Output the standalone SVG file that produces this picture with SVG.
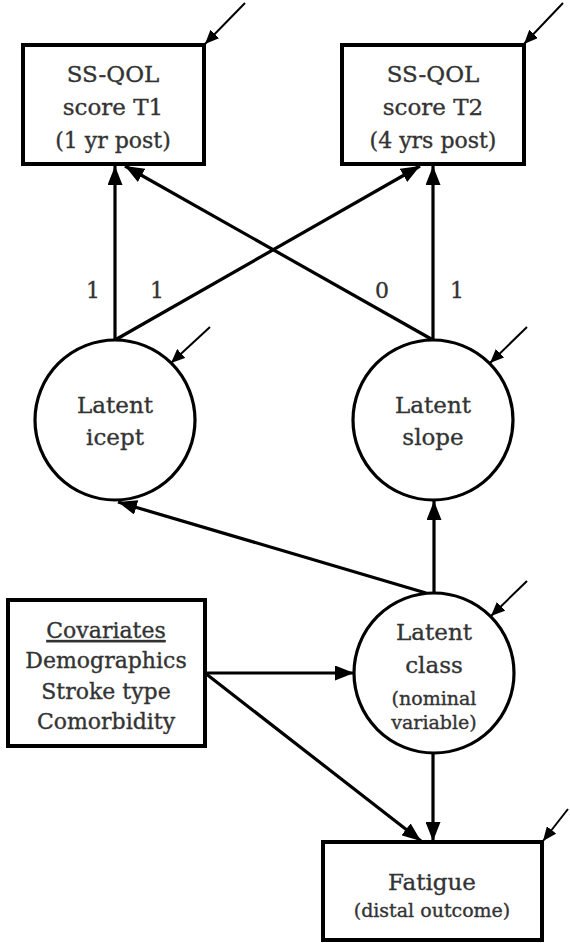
<svg xmlns="http://www.w3.org/2000/svg" width="570" height="943" viewBox="0 0 570 943">
  <style>
    .box { fill: #fff; stroke: #000; stroke-width: 4; }
    .lat { fill: #fff; stroke: #000; stroke-width: 3.2; }
    .t { font-family: "DejaVu Serif", "Liberation Serif", serif; fill: #333; stroke: #333; stroke-width: 0.35; text-anchor: middle; }
    .big { font-size: 23px; }
    .mid { font-size: 22px; }
    .sm { font-size: 19px; }
    .path { stroke: #000; stroke-width: 3.2; fill: none; marker-end: url(#head); }
    .err { stroke: #000; stroke-width: 2; fill: none; marker-end: url(#ehead); }
    .lbl { font-family: "DejaVu Serif", "Liberation Serif", serif; font-size: 22px; fill: #333; stroke: #333; stroke-width: 0.35; text-anchor: middle; }
  </style>
  <defs>
    <marker id="head" markerUnits="userSpaceOnUse" markerWidth="19" markerHeight="15" refX="19" refY="7.5" orient="auto">
      <path d="M0,0 L19,7.5 L0,15 z" fill="#000"/>
    </marker>
    <marker id="ehead" markerUnits="userSpaceOnUse" markerWidth="14" markerHeight="12" refX="14" refY="6" orient="auto">
      <path d="M0,0 L14,6 L0,12 z" fill="#000"/>
    </marker>
  </defs>
  <rect width="570" height="943" fill="#fff"/>

  <!-- paths between variables -->
  <g id="connectors">
    <line class="path" x1="115" y1="340" x2="115" y2="166"/>
    <line class="path" x1="433" y1="340" x2="433" y2="166"/>
    <line class="path" x1="115" y1="340" x2="420" y2="166"/>
    <line class="path" x1="433" y1="340" x2="125" y2="166"/>
    <line class="path" x1="434" y1="593" x2="434" y2="501"/>
    <line class="path" x1="426" y1="593" x2="118" y2="502"/>
    <line class="path" x1="205" y1="673" x2="354" y2="673"/>
    <line class="path" x1="205" y1="673" x2="421" y2="841"/>
    <line class="path" x1="433" y1="753" x2="433" y2="841"/>
    <!-- residual / error terms -->
    <line class="err" x1="245" y1="3" x2="205" y2="44"/>
    <line class="err" x1="563" y1="3" x2="524" y2="44"/>
    <line class="err" x1="210" y1="327" x2="171" y2="363"/>
    <line class="err" x1="527" y1="327" x2="490" y2="363"/>
    <line class="err" x1="527" y1="581" x2="491" y2="616"/>
    <line class="err" x1="568" y1="809" x2="543" y2="841"/>
  </g>

  <!-- loadings -->
  <g id="loadings">
    <text class="lbl" x="93" y="298">1</text>
    <text class="lbl" x="157" y="298">1</text>
    <text class="lbl" x="382" y="298">0</text>
    <text class="lbl" x="457" y="298">1</text>
  </g>

  <g id="ssqol-t1">
    <rect class="box" x="23" y="45" width="181" height="119"/>
    <text class="t big" x="113" y="82">SS-QOL</text>
    <text class="t big" x="113" y="115">score T1</text>
    <text class="t mid" x="113" y="148">(1 yr post)</text>
  </g>

  <g id="ssqol-t2">
    <rect class="box" x="342" y="45" width="182" height="119"/>
    <text class="t big" x="433" y="82">SS-QOL</text>
    <text class="t big" x="433" y="115">score T2</text>
    <text class="t mid" x="433" y="148">(4 yrs post)</text>
  </g>

  <g id="latent-icept">
    <circle class="lat" cx="115" cy="420" r="80"/>
    <text class="t big" x="115" y="413">Latent</text>
    <text class="t big" x="115" y="445">icept</text>
  </g>

  <g id="latent-slope">
    <circle class="lat" cx="433" cy="420" r="80"/>
    <text class="t big" x="433" y="413">Latent</text>
    <text class="t big" x="433" y="445">slope</text>
  </g>

  <g id="latent-class">
    <circle class="lat" cx="434" cy="673" r="80"/>
    <text class="t big" x="434" y="640">Latent</text>
    <text class="t big" x="434" y="673">class</text>
    <text class="t sm" x="434" y="705">(nominal</text>
    <text class="t sm" x="434" y="729">variable)</text>
  </g>

  <g id="covariates">
    <rect class="box" x="8" y="600" width="197" height="146"/>
    <text class="t mid" x="106" y="638" text-decoration="underline">Covariates</text>
    <text class="t mid" x="106" y="668">Demographics</text>
    <text class="t mid" x="106" y="699">Stroke type</text>
    <text class="t mid" x="106" y="729">Comorbidity</text>
  </g>

  <g id="fatigue">
    <rect class="box" x="323" y="842" width="219" height="98"/>
    <text class="t big" x="432" y="890">Fatigue</text>
    <text class="t" x="432" y="917" font-size="19">(distal outcome)</text>
  </g>
</svg>
